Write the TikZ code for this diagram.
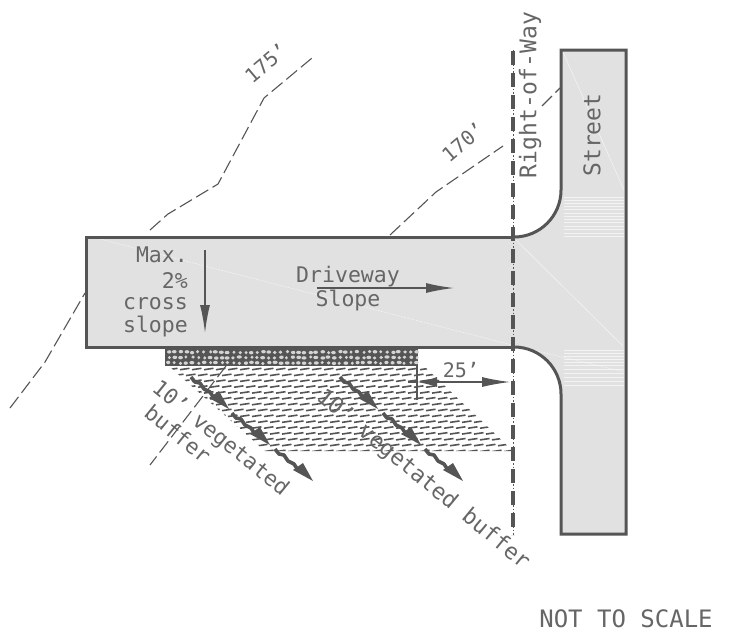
\documentclass[tikz,border=0pt]{standalone}
\usepackage{fontspec}
\setmainfont{DejaVu Sans Mono}
\usetikzlibrary{arrows.meta}
\definecolor{ink}{HTML}{555555}
\definecolor{txt}{HTML}{666666}
\definecolor{pave}{HTML}{E1E1E1}
\tikzset{
 outline/.style={draw=ink,line width=3pt},
 contour/.style={draw=ink,line width=1.1pt,dash pattern=on 14pt off 5pt},
 arrowline/.style={draw=ink,line width=1.6pt,-{Latex[length=28pt,width=10pt]}},
 lbl/.style={text=txt,font=\fontsize{23}{24}\selectfont,inner sep=0pt},
 wlbl/.style={text=txt,font=\fontsize{24}{24}\selectfont,inner sep=0pt},
 slbl/.style={text=txt,font=\fontsize{20}{22}\selectfont,inner sep=0pt},
 vlbl/.style={text=txt,font=\fontsize{21.5}{24}\selectfont,inner sep=0pt},
 blbl/.style={text=txt,font=\fontsize{22.3}{24}\selectfont,inner sep=0pt},
 streak/.style={draw=white,line width=0.6pt,opacity=.6},
 wave/.style={draw=ink,line width=3.6pt,line join=round},
 wavehead/.style={fill=ink},
}
\newcommand{\wavy}[2]{%
 \begin{scope}[shift={(#1,#2)}]
  \draw[wave] (0,0) -- (4,5) -- (9,6) -- (13,12) -- (19,15) -- (23,21);
  \fill[wavehead] (18,21) -- (28,14) -- (38,32) -- cycle;
 \end{scope}}
\begin{document}
\begin{tikzpicture}[x=1pt,y=-1pt]
\useasboundingbox (0,0) rectangle (735,633);
\fill[white] (0,0) rectangle (735,633);
% contours
\draw[contour] (10,408) -- (45,362) -- (85,293);
\draw[contour] (150,230) -- (168,214) -- (218,184) -- (264,98) -- (312,58);
\draw[contour] (390,235) -- (436,192) -- (503,146);
\draw[contour] (542,106) -- (560,88);
% pavement
\fill[pave] (86,237) -- (514,237) arc[start angle=90,end angle=0,radius=47] -- (561,50) -- (626,50) -- (626,534) -- (561,534) -- (561,394) arc[start angle=0,end angle=-90,radius=47] -- (86,347) -- cycle;
% faint streaks
\draw[streak,dash pattern=on 2pt off 1pt] (96,238) -- (512,345) -- (625,372);
\draw[streak] (516,240) -- (623,346);
\draw[streak] (563,52) -- (624,190);
\foreach \y in {197,200,203,206,209,213,216,219,222,226,229,233,236}{\draw[streak] (564,\y) -- (624,\y);}
\foreach \y in {350,353,356,359,362,365,369,373,377,381,385}{\draw[streak] (564,\y) -- (624,\y);}
% hatch
\begin{scope}
 \clip (170,367) -- (425,367) -- (513,451) -- (265,451) -- cycle;
 \foreach \r in {0,...,14}{
  \pgfmathsetmacro{\yy}{369+\r*5.85}
  \pgfmathsetmacro{\off}{mod(\r,2)*6}
  \foreach \k in {0,...,28}{
   \pgfmathsetmacro{\xx}{168+\k*12+\off}
   \draw[ink,line width=1.6pt] (\xx,\yy+0.7) -- (\xx+9.5,\yy-0.7);
  }
 }
\end{scope}
% contour below driveway
\draw[contour] (226,366) -- (150,465);
% gravel
\fill[ink] (165,348) rectangle (418,366);
\pgfmathsetseed{17}
\foreach \i in {0,...,42}{
 \foreach \j in {0,1,2}{
  \pgfmathsetmacro{\cx}{168+\i*5.9+rnd*1.5}
  \pgfmathsetmacro{\cy}{351.5+\j*5.4+rnd*1.2}
  \pgfmathsetmacro{\rx}{1.5+rnd*1.1}
  \fill[white!75!ink] (\cx,\cy) ellipse[x radius=\rx pt,y radius=1.7pt];
 }
}
% outline
\draw[outline] (514,237) -- (86,237) -- (86,347) -- (514,347);
\draw[outline,line join=miter] (514,237) arc[start angle=90,end angle=0,radius=47] -- (561,50) -- (626,50) -- (626,534) -- (561,534) -- (561,394) arc[start angle=0,end angle=-90,radius=47];
% right-of-way
\draw[ink,line width=0.8pt,dash pattern=on 1.5pt off 2pt] (513,50) -- (513,535);
\draw[ink,line width=4.5pt,dash pattern=on 14pt off 8pt] (513,51) -- (513,535);
% slope arrows
\coordinate (crossA) at (205,250); \coordinate (crossB) at (205,333);
\coordinate (driveA) at (317,288); \coordinate (driveB) at (454,288);
\draw[arrowline] (crossA) -- (crossB);
\draw[arrowline] (driveA) -- (driveB);
% 25' dimension
\coordinate (dimA) at (417,382); \coordinate (dimB) at (510,382);
\draw[ink,line width=1.2pt] (417,365) -- (417,400);
\draw[ink,line width=1.2pt] (408,382) -- (dimA);
\draw[draw=ink,line width=1.2pt,{Latex[length=20pt,width=10pt]}-{Latex[length=28pt,width=10pt]}] (dimA) -- (dimB);
% vegetated buffer flows
\wavy{191}{377}\wavy{232}{413}\wavy{275}{449}
\wavy{340}{377}\wavy{383}{413}\wavy{425}{449}
% labels
\node[slbl,rotate=40] (t175) at (266,63) {175'};
\node[slbl,rotate=40] (t170) at (463,142) {170'};
\node[lbl,rotate=90] (trow) at (530,95) {Right-of-Way};
\node[lbl,rotate=90] (tstreet) at (592,135) {Street};
\node[vlbl,anchor=east] (tmax) at (188,255) {Max.};
\node[vlbl,anchor=east] (t2) at (188,281) {2\%};
\node[vlbl,anchor=east] (tcross) at (188,304) {cross};
\node[vlbl,anchor=east] (tslope) at (188,327) {slope};
\node[vlbl] (tdrive) at (348,277) {Driveway};
\node[vlbl] (tslopeb) at (348,301) {Slope};
\node[slbl] (t25) at (461,370) {25'};
\node[vlbl,rotate=-39] (tvegA) at (220,439) {10' vegetated};
\node[vlbl,rotate=-39] (tbufA) at (178,434) {buffer};
\node[blbl,rotate=-39.5] (tvegB) at (423,480) {10' vegetated buffer};
\node[wlbl] (tscale) at (626,619) {NOT TO SCALE};
\end{tikzpicture}
\end{document}
